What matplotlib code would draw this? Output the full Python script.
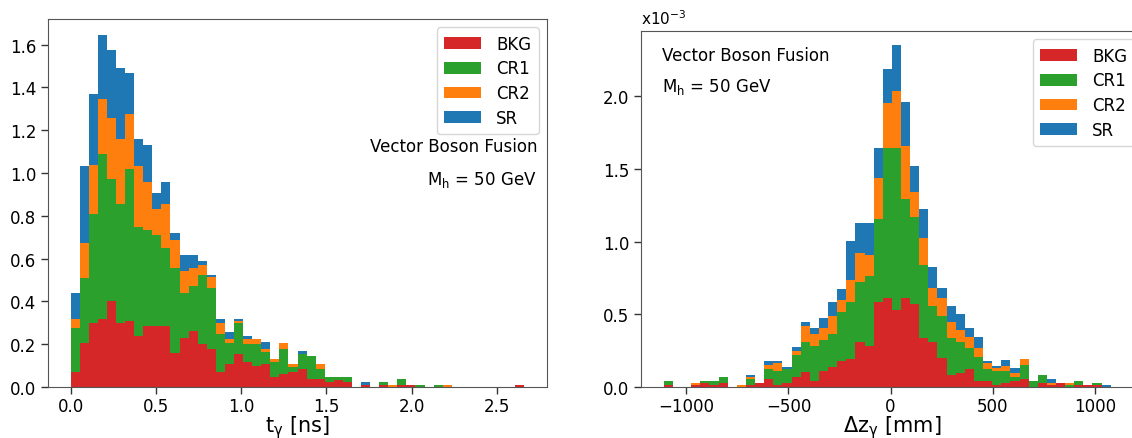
import numpy as np
import matplotlib
matplotlib.use("Agg")
import matplotlib.pyplot as plt

plt.rcParams['mathtext.default'] = 'regular'

labels = ['BKG', 'CR1', 'CR2', 'SR']
colors = ['#d62728', '#2ca02c', '#ff7f0e', '#1f77b4']

# photon time t_gamma [ns], 50 bins from 0 to 2.66 (stacked bin heights)
t_edges = np.linspace(0.0, 2.66, 51)
t_bkg = [0.072, 0.204, 0.299, 0.320, 0.403, 0.299, 0.308, 0.239, 0.285, 0.285,
         0.285, 0.157, 0.227, 0.260, 0.202, 0.177, 0.070, 0.107, 0.154, 0.116,
         0.096, 0.107, 0.045, 0.061, 0.072, 0.084, 0.037, 0.037, 0.025, 0.034,
         0.025, 0.0, 0.011, 0.0, 0.011, 0.0, 0.011, 0.011, 0.0, 0.0,
         0.0, 0.0, 0.0, 0.0, 0.0, 0.0, 0.0, 0.0, 0.0, 0.011]
t_cr1 = [0.202, 0.304, 0.508, 0.768, 0.567, 0.555, 0.709, 0.509, 0.449, 0.425,
         0.366, 0.401, 0.214, 0.214, 0.320, 0.285, 0.180, 0.097, 0.145, 0.086,
         0.106, 0.058, 0.073, 0.116, 0.023, 0.070, 0.106, 0.047, 0.020, 0.011,
         0.020, 0.0, 0.0, 0.0, 0.014, 0.0, 0.025, 0.0, 0.011, 0.0,
         0.011, 0.0, 0.0, 0.0, 0.0, 0.0, 0.0, 0.0, 0.0, 0.0]
t_cr2 = [0.046, 0.167, 0.232, 0.260, 0.285, 0.307, 0.258, 0.284, 0.224, 0.120,
         0.203, 0.129, 0.102, 0.084, 0.047, 0.050, 0.047, 0.022, 0.010, 0.022,
         0.022, 0.012, 0.013, 0.028, 0.012, 0.0, 0.0, 0.023, 0.0, 0.0,
         0.0, 0.0, 0.0, 0.0, 0.0, 0.011, 0.0, 0.0, 0.0, 0.0,
         0.0, 0.011, 0.0, 0.0, 0.0, 0.0, 0.0, 0.0, 0.0, 0.0]
t_sr = [0.121, 0.357, 0.332, 0.297, 0.318, 0.330, 0.193, 0.129, 0.175, 0.078,
        0.104, 0.034, 0.074, 0.059, 0.022, 0.010, 0.021, 0.033, 0.010, 0.013,
        0.0, 0.034, 0.0, 0.0, 0.0, 0.012, 0.0, 0.0, 0.0, 0.0,
        0.0, 0.0, 0.014, 0.0, 0.0, 0.0, 0.0, 0.0, 0.0, 0.0,
        0.0, 0.0, 0.0, 0.0, 0.0, 0.0, 0.0, 0.0, 0.0, 0.0]

# delta z_gamma [mm], 49 bins from -1110 to 1078 (heights in units of 1e-3)
z_edges = np.linspace(-1110, 1078, 50)
z_bkg = [0.016, 0.0, 0.0, 0.016, 0.030, 0.016, 0.030, 0.0, 0.0, 0.016,
         0.030, 0.057, 0.016, 0.030, 0.071, 0.100, 0.044, 0.112, 0.141, 0.181,
         0.193, 0.308, 0.280, 0.587, 0.610, 0.532, 0.610, 0.571, 0.335, 0.308,
         0.197, 0.085, 0.096, 0.124, 0.044, 0.044, 0.016, 0.028, 0.044, 0.055,
         0.0, 0.028, 0.016, 0.028, 0.0, 0.016, 0.016, 0.014, 0.0]
z_cr1 = [0.025, 0.0, 0.0, 0.0, 0.011, 0.025, 0.041, 0.0, 0.0, 0.041,
         0.0, 0.069, 0.096, 0.096, 0.152, 0.208, 0.241, 0.210, 0.224, 0.335,
         0.394, 0.417, 0.486, 0.570, 1.035, 1.113, 0.684, 0.602, 0.505, 0.252,
         0.294, 0.252, 0.212, 0.142, 0.165, 0.080, 0.096, 0.084, 0.027, 0.099,
         0.041, 0.055, 0.0, 0.0, 0.014, 0.028, 0.0, 0.014, 0.0]
z_cr2 = [0.0, 0.0, 0.0, 0.014, 0.0, 0.0, 0.0, 0.0, 0.016, 0.014,
         0.0, 0.028, 0.056, 0.0, 0.027, 0.112, 0.077, 0.084, 0.124, 0.080,
         0.152, 0.198, 0.143, 0.280, 0.310, 0.391, 0.368, 0.167, 0.182, 0.122,
         0.122, 0.113, 0.084, 0.076, 0.057, 0.039, 0.017, 0.030, 0.028, 0.041,
         0.0, 0.0, 0.012, 0.0, 0.014, 0.0, 0.0, 0.0, 0.0]
z_sr = [0.0, 0.0, 0.0, 0.0, 0.0, 0.0, 0.0, 0.0, 0.0, 0.014,
        0.0, 0.027, 0.013, 0.014, 0.028, 0.028, 0.043, 0.072, 0.098, 0.076,
        0.268, 0.204, 0.218, 0.208, 0.234, 0.321, 0.302, 0.179, 0.203, 0.142,
        0.069, 0.110, 0.111, 0.062, 0.081, 0.018, 0.013, 0.042, 0.030, 0.0,
        0.0, 0.0, 0.027, 0.0, 0.0, 0.0, 0.0, 0.0, 0.014]


def stacked_hist(ax, edges, layers):
    centers = 0.5 * (edges[:-1] + edges[1:])
    ax.hist([centers] * len(layers), bins=edges, weights=layers, stacked=True,
            histtype='stepfilled', color=colors, label=labels, linewidth=0.5)


def style_axes(ax):
    for s in ax.spines.values():
        s.set_color('#555555')
    ax.tick_params(axis='both', labelsize=12, length=5, width=1, color='#333333')
    ax.tick_params(axis='x', pad=2)
    handles, names = ax.get_legend_handles_labels()
    # stacked hist gives the handles top-down; list BKG first like the original
    order = [names.index(n) for n in labels]
    ax.legend([handles[i] for i in order], [names[i] for i in order],
              loc='upper right', fontsize=12, handlelength=2.2, borderpad=0.45,
              labelspacing=0.4, handletextpad=0.9)


fig = plt.figure(figsize=(11.32, 4.39), dpi=100)
W, H = 1132.0, 439.0

ax1 = fig.add_axes([48 / W, 1 - 388 / H, 499 / W, 368 / H])
stacked_hist(ax1, t_edges, [t_bkg, t_cr1, t_cr2, t_sr])
ax1.set_xlabel(r'$t_{\gamma}$ [ns]', fontsize=15, labelpad=-1)
ax1.set_ylim(0, 1.72)
style_axes(ax1)
ax1.text(0.98, 0.655, 'Vector Boson Fusion', transform=ax1.transAxes,
         ha='right', va='center', fontsize=12)
ax1.text(0.98, 0.565, r'$M_{h}$ = 50 GeV', transform=ax1.transAxes,
         ha='right', va='center', fontsize=12)

ax2 = fig.add_axes([641 / W, 1 - 388 / H, 502 / W, 356 / H])
stacked_hist(ax2, z_edges, [z_bkg, z_cr1, z_cr2, z_sr])
ax2.set_xlabel(r'$\Delta z_{\gamma}$ [mm]', fontsize=15, labelpad=-1)
ax2.set_xlim(-1222, 1236)
ax2.set_ylim(0, 2.45)
style_axes(ax2)
ax2.text(0.042, 0.933, 'Vector Boson Fusion', transform=ax2.transAxes,
         ha='left', va='center', fontsize=12)
ax2.text(0.042, 0.846, r'$M_{h}$ = 50 GeV', transform=ax2.transAxes,
         ha='left', va='center', fontsize=12)
ax2.text(0.0, 1.01, r'x10$^{-3}$', transform=ax2.transAxes,
         ha='left', va='bottom', fontsize=11)

fig.savefig('out.png', dpi=100)
